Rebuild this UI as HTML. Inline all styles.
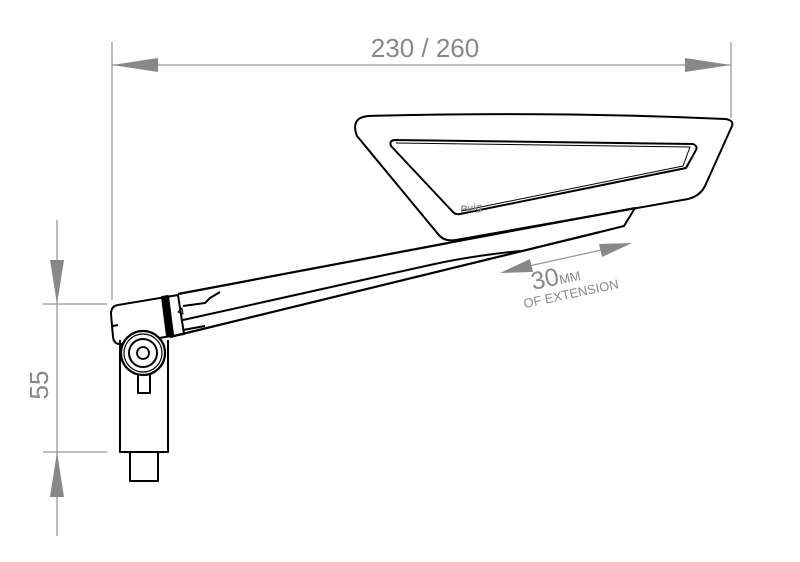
<!DOCTYPE html>
<html><head><meta charset="utf-8"><style>
html,body{margin:0;padding:0;background:#fff;}
svg{display:block;}
text{font-family:"Liberation Sans",sans-serif;fill:#888;}
</style></head><body>
<svg width="800" height="562" viewBox="0 0 800 562" xmlns="http://www.w3.org/2000/svg">
<g stroke="#999" stroke-width="1.3" fill="none">
<line x1="112" y1="42" x2="112" y2="300"/>
<line x1="731" y1="42" x2="731" y2="118"/>
<line x1="112" y1="65" x2="731" y2="65"/>
<line x1="57" y1="220" x2="57" y2="536"/>
<line x1="43" y1="304" x2="107" y2="304"/>
<line x1="43" y1="452" x2="107" y2="452"/>
<line x1="520" y1="268" x2="615" y2="247"/>
</g>
<g fill="#888">
<polygon points="112,65 158,58 158,72"/>
<polygon points="731,65 685,58 685,72"/>
<polygon points="57,304 50,260 64,260"/>
<polygon points="57,452 50,497 64,497"/>
<polygon points="500,273 530,259 533,272"/>
<polygon points="632,243 602,257 599,244"/>
</g>
<text x="425" y="57" font-size="26" text-anchor="middle">230 / 260</text>
<text transform="translate(48,385) rotate(-90)" font-size="26" text-anchor="middle">55</text>
<g transform="translate(533,290) rotate(-12)">
<text x="0" y="0" font-size="25">30<tspan font-size="13">MM</tspan></text>
<text x="-12" y="16" font-size="13">OF EXTENSION</text>
</g>
<g stroke="#000" stroke-width="2" fill="none" stroke-linejoin="round">
<path d="M368,116 Q350,118 357,136 L438,234 Q444,242 456,240 L688,199 Q700,196 705,186 L732,126 Q734,120 725,119 Q550,111 368,116 Z"/>
<path d="M394,140 L693,144 Q698,146 696,150 L686,168 L460,214 Q455,215 452,211 L391,146 Q389,141 394,140 Z"/>
<path d="M396,143 L690,147 L683,166 L461,211" stroke-width="1"/>
<path d="M448,243 L635,208 L624,226 L600,232"/>
<path d="M178,294 L210,288 L448,243" stroke-width="2.2"/>
<path d="M170,337 L600,232" stroke-width="2.2"/>
<path d="M183,320 L430,265 Q470,256 520,251"/>
<path d="M183,330 L205,326"/>
<path d="M183,306 L205,303 L210,298 L220,292"/>
<path d="M118,305 L178,295 L184,334 L122,344 Q114,345 113,337 L111,314 Q111,306 118,305 Z"/>
<line x1="113" y1="326" x2="118" y2="325"/>
<polygon points="162,297 168,296 173,335 167,336" fill="#000"/>
<polygon points="178,312 182,308 183,314" fill="none" stroke-width="1"/>
<path d="M120,340 L120,452 L168,452 L168,340"/>
<rect x="130" y="452" width="28" height="29"/>
<path d="M138,372 L138,393 L150,393 L150,372"/>
<circle cx="143" cy="353" r="22" fill="#fff" stroke-width="2.2"/>
<circle cx="143" cy="353" r="19" stroke-width="1.2"/>
<circle cx="143" cy="353" r="14" stroke-width="2"/>
<circle cx="143" cy="353" r="6" stroke-width="1.8"/>
</g>
<text x="460" y="210" font-size="10" font-style="italic" font-weight="bold" fill="#222" transform="rotate(-8 480 205)">Puig</text>
</svg>
</body></html>
